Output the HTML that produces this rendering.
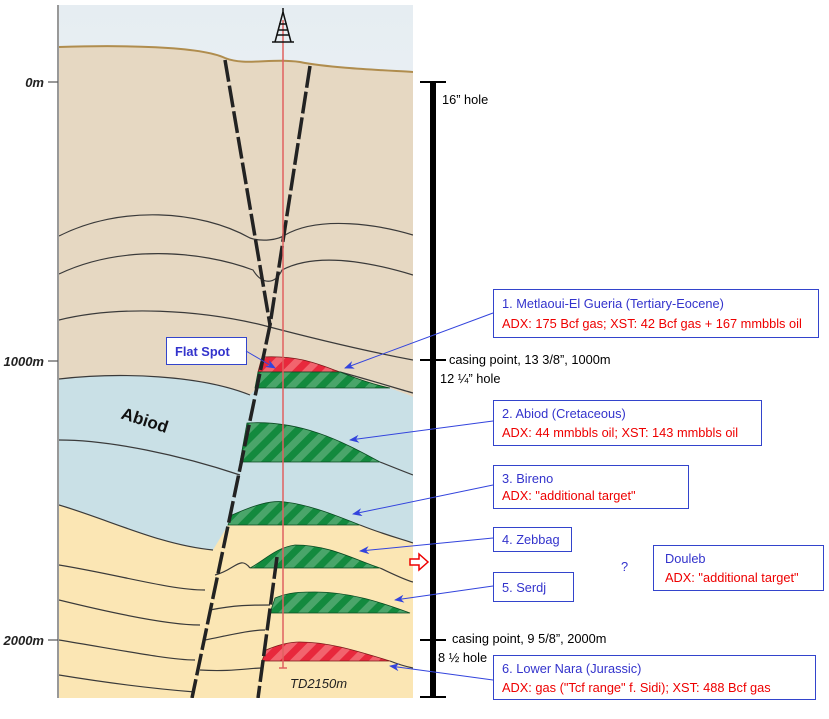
<!DOCTYPE html>
<html><head><meta charset="utf-8"><style>
body{margin:0;background:#fff;width:829px;height:719px;overflow:hidden}
svg{display:block;font-family:"Liberation Sans",sans-serif}
.t{font-family:"Liberation Sans",sans-serif;font-size:12.8px}
</style></head><body>
<svg width="829" height="719" viewBox="0 0 829 719">
<defs>
<linearGradient id="sky" x1="0" y1="0" x2="0" y2="1"><stop offset="0" stop-color="#e6edf2"/><stop offset="1" stop-color="#fbfcfd"/></linearGradient>
<pattern id="gs" width="14" height="14" patternUnits="userSpaceOnUse" patternTransform="rotate(45)"><rect width="14" height="14" fill="#138a3e"/><rect width="7" height="14" fill="#4aa56a"/></pattern>
<pattern id="rs" width="14" height="14" patternUnits="userSpaceOnUse" patternTransform="rotate(45)"><rect width="14" height="14" fill="#e8283c"/><rect width="7" height="14" fill="#f2646e"/></pattern>
<marker id="ah" markerWidth="10" markerHeight="8" refX="9" refY="4" orient="auto" markerUnits="userSpaceOnUse"><path d="M0,0 L10,4 L0,8 L3,4z" fill="#3344dd"/></marker>
<clipPath id="cl"><rect x="59" y="5" width="354" height="693"/></clipPath>
</defs>
<g clip-path="url(#cl)">
<rect x="59" y="5" width="354" height="693" fill="url(#sky)"/>
<path d="M59,47 C120,45 200,46 225,58 C245,66 270,58 300,62 C330,68 380,70 413,72 L413,698 L59,698Z" fill="#e6d8c2"/>
<path d="M59,47 C120,45 200,46 225,58 C245,66 270,58 300,62 C330,68 380,70 413,72" fill="none" stroke="#b08d4e" stroke-width="2"/>
<path d="M59,379 C120,372 200,375 250,395 L255,390 L258,388 L390,388 C400,392 410,395 413,397 L413,698 L59,698Z" fill="#c9e0e6"/>
<path d="M59,505 C110,520 160,545 213,550 L228,525 L360,525 C380,532 400,538 413,543 L413,698 L59,698Z" fill="#fbe6b4"/>
<g fill="none" stroke="#3a3a3a" stroke-width="1.2">
<path d="M59,236 C120,205 200,210 250,238 C262,242 278,240 285,235 C320,215 380,225 413,235"/>
<path d="M59,274 C120,245 200,250 253,270 C262,285 275,285 282,270 C320,250 380,265 413,275"/>
<path d="M59,320 C120,305 200,310 262,325 C300,335 360,350 413,360"/>
<path d="M59,379 C120,372 200,375 250,395"/>
<path d="M59,440 C110,440 180,455 240,475"/>
<path d="M59,505 C110,520 160,545 213,550"/>
<path d="M340,372 C370,380 395,388 413,393"/>
<path d="M380,462 C395,468 405,472 413,475"/>
<path d="M360,525 C385,535 405,540 413,543"/>
<path d="M380,568 C395,575 405,580 413,582"/>
<path d="M59,565 C120,575 170,590 205,590"/>
<path d="M215,575 C235,570 240,555 250,568"/>
<path d="M59,600 C120,615 170,625 200,625"/>
<path d="M210,610 C235,605 250,605 270,605"/>
<path d="M59,640 C120,650 170,660 195,660"/>
<path d="M59,675 C120,685 170,690 195,692"/>
<path d="M205,640 C230,635 250,630 265,630"/>
<path d="M200,670 C230,672 250,668 262,668"/>
<path d="M390,661 C400,665 408,667 413,668"/>
</g>
<text x="118" y="428" font-size="17" font-weight="bold" transform="rotate(18 150 430)" fill="#111">Abiod</text>
<path d="M258,372 L262,357 C300,355 320,365 340,372Z" fill="url(#rs)" stroke="#7a1a1a" stroke-width="0.8"/>
<path d="M255,388 L258,372 L340,372 C360,380 375,385 390,388Z" fill="url(#gs)" stroke="#0b4a22" stroke-width="0.8"/>
<path d="M240,462 L247,423 C300,420 340,440 380,462Z" fill="url(#gs)" stroke="#0b4a22" stroke-width="0.8"/>
<path d="M228,525 L232,515 C255,505 270,500 285,502 C310,505 335,515 360,525Z" fill="url(#gs)" stroke="#0b4a22" stroke-width="0.8"/>
<path d="M250,568 C265,560 275,548 295,545 C330,545 355,560 380,568Z" fill="url(#gs)" stroke="#0b4a22" stroke-width="0.8"/>
<path d="M270,613 L275,598 C290,592 300,592 315,592 C350,592 380,602 410,613Z" fill="url(#gs)" stroke="#0b4a22" stroke-width="0.8"/>
<path d="M262,661 L266,650 C280,644 290,642 300,642 C330,642 360,652 390,661Z" fill="url(#rs)" stroke="#7a1a1a" stroke-width="0.8"/>
<g stroke="#222" stroke-width="3.5" stroke-dasharray="22,4" fill="none">
<path d="M225,60 L270,325"/>
<path d="M310,66 L270,325 L192,698"/>
<path d="M277,557 L258,698"/>
</g>
<line x1="283" y1="20" x2="283" y2="668" stroke="#e06060" stroke-width="1.5"/>
<line x1="279" y1="668" x2="287" y2="668" stroke="#e06060" stroke-width="1.5"/>
<text x="290" y="688" font-size="13" font-style="italic" fill="#222">TD2150m</text>
</g>
<g stroke="#111" stroke-width="1.5" fill="none">
<path d="M283,12 L275,42 M283,12 L291,42 M272,42 L294,42 M278,30 L288,30 M277,35 L289,35 M279,24 L287,24"/>
<path d="M283,8 L283,14"/>
</g>
<line x1="58" y1="5" x2="58" y2="698" stroke="#555" stroke-width="1.2"/>
<g stroke="#555" stroke-width="1.2"><line x1="48" y1="82" x2="58" y2="82"/><line x1="48" y1="361" x2="58" y2="361"/><line x1="48" y1="640" x2="58" y2="640"/></g>
<g font-size="13" font-style="italic" font-weight="bold" fill="#222" text-anchor="end">
<text x="44" y="87">0m</text><text x="44" y="366">1000m</text><text x="44" y="645">2000m</text></g>
<rect x="430" y="82" width="6" height="615" fill="#000"/>
<g stroke="#000" stroke-width="2"><line x1="420" y1="82" x2="446" y2="82"/><line x1="420" y1="360" x2="446" y2="360"/><line x1="420" y1="640" x2="446" y2="640"/><line x1="420" y1="697" x2="446" y2="697"/></g>
<g class="t" fill="#000">
<text x="442" y="104">16” hole</text>
<text x="449" y="364">casing point, 13 3/8”, 1000m</text>
<text x="440" y="383">12 ¼” hole</text>
<text x="452" y="643">casing point, 9 5/8”, 2000m</text>
<text x="438" y="662">8 ½ hole</text>
</g>
<path d="M410,559 L419,559 L419,554 L428,562 L419,570 L419,565 L410,565Z" fill="#fff" stroke="#e00" stroke-width="1.5"/>
<g fill="#fff" stroke="#3344cc" stroke-width="1">
<rect x="166.5" y="337.5" width="80" height="27"/>
<rect x="493.5" y="289.5" width="325" height="48"/>
<rect x="493.5" y="400.5" width="268" height="45"/>
<rect x="493.5" y="465.5" width="195" height="43"/>
<rect x="493.5" y="527.5" width="78" height="24"/>
<rect x="493.5" y="572.5" width="80" height="29"/>
<rect x="493.5" y="655.5" width="322" height="44"/>
<rect x="653.5" y="545.5" width="170" height="45"/>
</g>
<g class="t">
<text x="175" y="356" fill="#3333cc" font-weight="bold">Flat Spot</text>
<text x="502" y="308" fill="#3333cc">1. Metlaoui-El Gueria (Tertiary-Eocene)</text>
<text x="502" y="328" fill="#e00">ADX: 175 Bcf gas; XST: 42 Bcf gas + 167 mmbbls oil</text>
<text x="502" y="418" fill="#3333cc">2. Abiod  (Cretaceous)</text>
<text x="502" y="437" fill="#e00">ADX: 44 mmbbls oil; XST: 143 mmbbls oil</text>
<text x="502" y="483" fill="#3333cc">3. Bireno</text>
<text x="502" y="500" fill="#e00">ADX: "additional target"</text>
<text x="502" y="544" fill="#3333cc">4. Zebbag</text>
<text x="502" y="592" fill="#3333cc">5. Serdj</text>
<text x="502" y="673" fill="#3333cc">6. Lower Nara (Jurassic)</text>
<text x="502" y="692" fill="#e00">ADX: gas ("Tcf range" f. Sidi); XST: 488  Bcf gas</text>
<text x="665" y="563" fill="#3333cc">Douleb</text>
<text x="665" y="582" fill="#e00">ADX: "additional target"</text>
<text x="621" y="571" fill="#3333cc">?</text>
</g>
<g stroke="#3344dd" stroke-width="1" marker-end="url(#ah)">
<line x1="246" y1="351" x2="275" y2="368"/>
<line x1="493" y1="313" x2="345" y2="368"/>
<line x1="493" y1="421" x2="350" y2="440"/>
<line x1="493" y1="485" x2="353" y2="514"/>
<line x1="493" y1="538" x2="360" y2="551"/>
<line x1="493" y1="586" x2="395" y2="600"/>
<line x1="493" y1="680" x2="390" y2="666"/>
</g>
</svg>
</body></html>
